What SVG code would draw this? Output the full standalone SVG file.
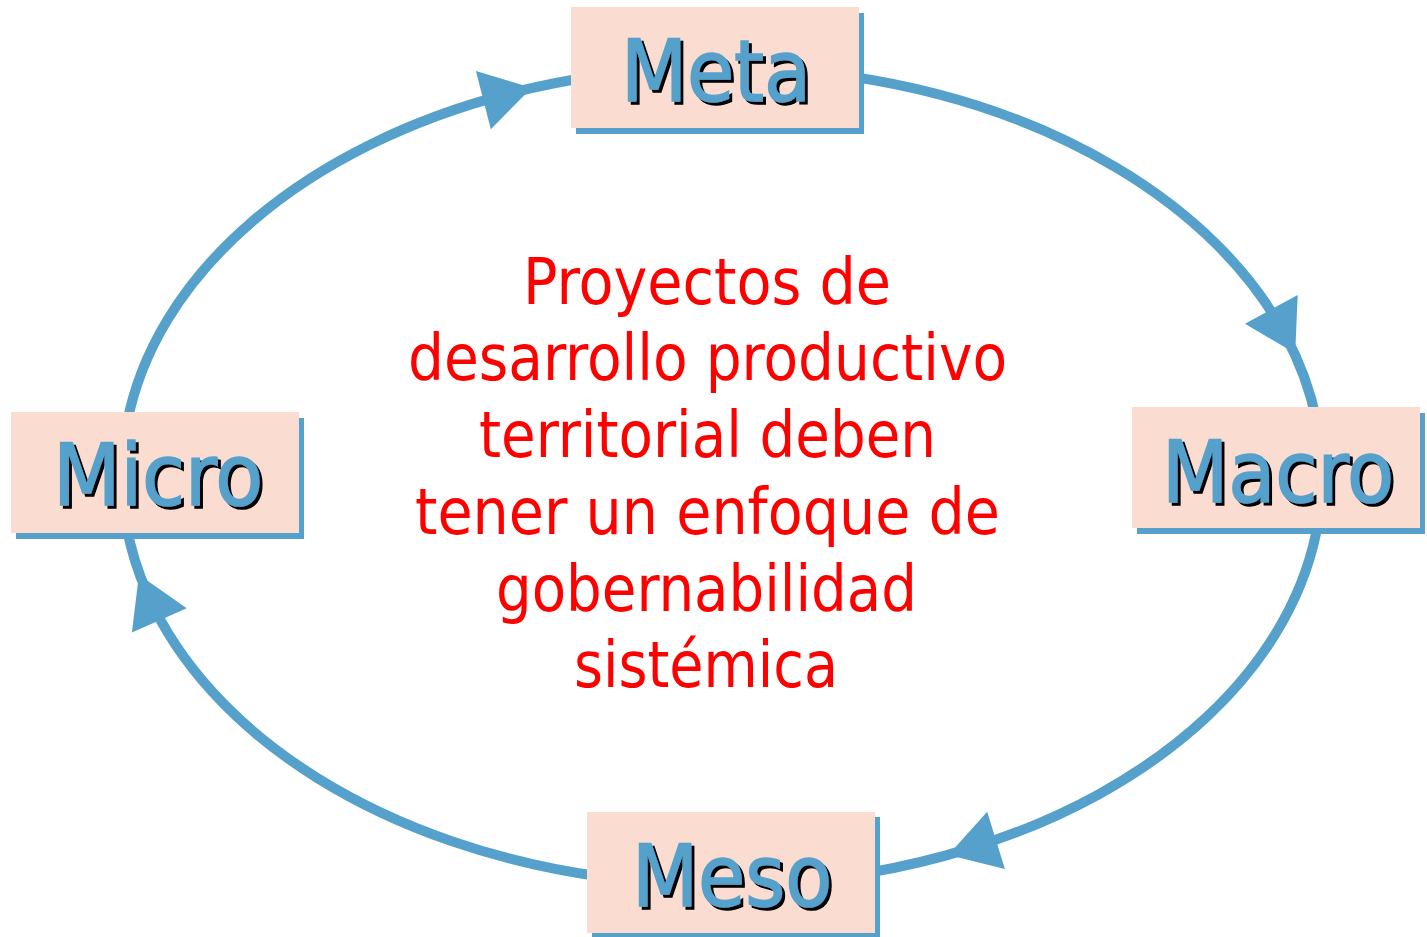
<svg xmlns="http://www.w3.org/2000/svg" width="1427" height="937" viewBox="0 0 1427 937">
<style>
.bg{fill:#ffffff}
.conn{fill:none;stroke:#55A1CC;stroke-width:10;marker-mid:url(#arrow)}
.box{fill:#FADDD0}
.shadow{fill:#55A1CC}
.lbl{font-family:"DejaVu Sans Condensed","DejaVu Sans",sans-serif;font-size:85px;fill:#55A1CC;stroke:#55A1CC;stroke-width:1.5;filter:url(#txtshadow)}
.center{font-family:"DejaVu Sans Condensed","DejaVu Sans",sans-serif;font-size:64px;fill:#FF0000;text-anchor:middle}
</style>
<defs>
<marker id="arrow" markerUnits="userSpaceOnUse" viewBox="-40 -40 80 80" markerWidth="80" markerHeight="80" refX="0" refY="0" orient="auto" overflow="visible">
<path d="M -28 -30 L 22 0 L -28 30 Z" fill="#55A1CC"/>
</marker>
<filter id="txtshadow" x="-10%" y="-20%" width="120%" height="140%">
<feFlood flood-color="#000000" result="blk"/>
<feComposite in="blk" in2="SourceAlpha" operator="in" result="sh"/>
<feOffset in="sh" dx="2.5" dy="3" result="off"/>
<feMerge><feMergeNode in="off"/><feMergeNode in="SourceGraphic"/></feMerge>
</filter>
</defs>
<rect class="bg" x="0" y="0" width="1427" height="937"/>
<g id="connectors">
<path class="conn" d="M 850 76.4 A 600 409 0 0 1 1284.7 334 A 600 409 0 0 1 1316.3 420"/>
<path class="conn" d="M 1318.5 520 A 600 409 0 0 1 969.3 848.6 A 600 409 0 0 1 870 872.4"/>
<path class="conn" d="M 600 876.5 A 600 409 0 0 1 147.9 594.8 A 600 409 0 0 1 126.3 525"/>
<path class="conn" d="M 126.7 425 A 600 409 0 0 1 510.5 93.2 A 600 409 0 0 1 600 75.5"/>
</g>
<g id="meta">
<rect class="shadow" x="576" y="13" width="288" height="121"/>
<rect class="box" x="571" y="7" width="288" height="121"/>
<text class="lbl" x="621" y="101" textLength="190" lengthAdjust="spacingAndGlyphs">Meta</text>
</g>
<g id="macro">
<rect class="shadow" x="1137" y="413" width="288" height="121"/>
<rect class="box" x="1132" y="407" width="288" height="121"/>
<text class="lbl" x="1162" y="502" textLength="232" lengthAdjust="spacingAndGlyphs">Macro</text>
</g>
<g id="meso">
<rect class="shadow" x="592" y="817" width="288" height="121"/>
<rect class="box" x="587" y="812" width="288" height="121"/>
<text class="lbl" x="632" y="906" textLength="200" lengthAdjust="spacingAndGlyphs">Meso</text>
</g>
<g id="micro">
<rect class="shadow" x="16" y="418" width="288" height="121"/>
<rect class="box" x="11" y="412" width="288" height="121"/>
<text class="lbl" x="53" y="505" textLength="210" lengthAdjust="spacingAndGlyphs">Micro</text>
</g>
<g id="center-text">
<text class="center" x="707" y="304" textLength="368" lengthAdjust="spacingAndGlyphs">Proyectos de</text>
<text class="center" x="707.5" y="380" textLength="599" lengthAdjust="spacingAndGlyphs">desarrollo productivo</text>
<text class="center" x="707.5" y="457" textLength="457" lengthAdjust="spacingAndGlyphs">territorial deben</text>
<text class="center" x="707.5" y="534" textLength="585" lengthAdjust="spacingAndGlyphs">tener un enfoque de</text>
<text class="center" x="706.5" y="611" textLength="421" lengthAdjust="spacingAndGlyphs">gobernabilidad</text>
<text class="center" x="706" y="687" textLength="264" lengthAdjust="spacingAndGlyphs">sistémica</text>
</g>
</svg>
